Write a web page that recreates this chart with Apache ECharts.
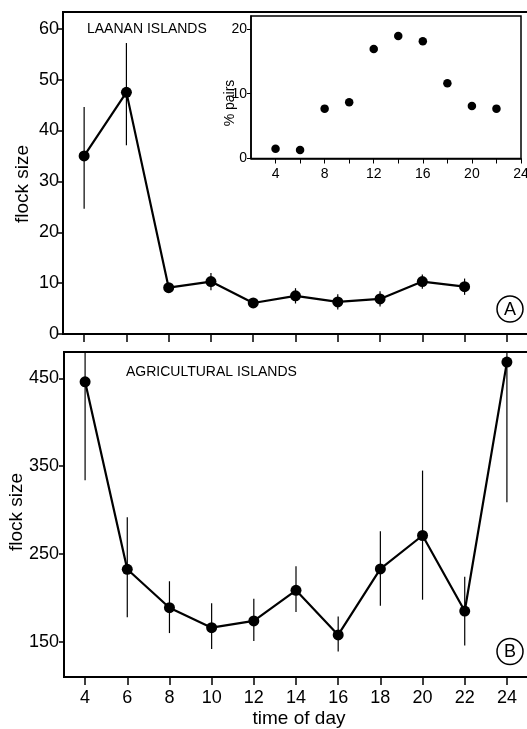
<!DOCTYPE html>
<html>
<head>
<meta charset="utf-8">
<script src="https://cdn.jsdelivr.net/npm/echarts@6/dist/echarts.min.js"></script>
<style>
html,body{margin:0;padding:0;background:#fff;}
#chart{width:527px;height:729px;}
</style>
</head>
<body>
<div id="chart"></div>
<script>
// ---- data ----
var hoursAll = [4, 6, 8, 10, 12, 14, 16, 18, 20, 22, 24];
var hoursLaanan = [4, 6, 8, 10, 12, 14, 16, 18, 20, 22];
var laananMean = [35, 47.5, 9.1, 10.3, 6.1, 7.5, 6.3, 6.9, 10.3, 9.3];
var laananLow  = [24.6, 37.1, 8.3, 8.6, 5.4, 6.0, 4.8, 5.4, 8.9, 7.7];
var laananHigh = [44.6, 57.2, 9.9, 12.0, 6.8, 9.0, 7.8, 8.4, 11.7, 10.9];

var pairsHours = [4, 6, 8, 10, 12, 14, 16, 18, 20, 22];
var pairsPct = [1.5, 1.3, 7.7, 8.7, 16.9, 18.9, 18.1, 11.6, 8.1, 7.7];

var agriMean = [446, 232.6, 188.9, 166.2, 173.8, 208.7, 157.9, 233, 271.1, 185.1, 468.5];
var agriLow  = [334, 178, 160, 142, 151, 184, 139, 191, 198, 146, 309];
var agriHigh = [558, 292, 219, 194, 199, 236, 179, 276, 345, 224, 628];

var topYTicks = [0, 10, 20, 30, 40, 50, 60];
var insetYTicks = [0, 10, 20];
var insetXTicks = [4, 6, 8, 10, 12, 14, 16, 18, 20, 22, 24];
var insetXLabels = [4, 8, 12, 16, 20, 24];
var bottomYTicks = [150, 250, 350, 450];
var xTicks = [4, 6, 8, 10, 12, 14, 16, 18, 20, 22, 24];

// ---- chart ----
var FONT = 'Liberation Sans, Arial, sans-serif';
var chart = echarts.init(document.getElementById('chart'), null, {renderer: 'canvas'});

function pairs(xs, ys) { return xs.map(function (x, i) { return [x, ys[i]]; }); }
function errData(xs, lo, hi) { return xs.map(function (x, i) { return [x, lo[i], hi[i]]; }); }
function errRender(params, api) {
  var x = api.value(0);
  var p1 = api.coord([x, api.value(1)]);
  var p2 = api.coord([x, api.value(2)]);
  return {type: 'line', shape: {x1: p1[0], y1: p1[1], x2: p2[0], y2: p2[1]},
          style: {stroke: '#000', lineWidth: 1.2}};
}

var axisLine = {show: true, lineStyle: {color: '#000', width: 2}};

var option = {
  animation: false,
  backgroundColor: '#fff',
  grid: [
    {left: 63, top: 12, width: 465, height: 322, show: true, borderColor: '#000', borderWidth: 2, outerBoundsMode: 'none'},
    {left: 251, top: 16, width: 270, height: 142.5, show: true, borderColor: '#000', borderWidth: 1.5, backgroundColor: '#fff', outerBoundsMode: 'none'},
    {left: 64, top: 352, width: 464, height: 325, show: true, borderColor: '#000', borderWidth: 2, outerBoundsMode: 'none'}
  ],
  xAxis: [
    {gridIndex: 0, type: 'value', min: 3, max: 25, axisLine: axisLine,
     axisTick: {show: true, inside: false, length: 8, customValues: xTicks, lineStyle: {color: '#000', width: 1.5}},
     axisLabel: {show: false}, splitLine: {show: false}},
    {gridIndex: 1, type: 'value', min: 2, max: 24, axisLine: {show: true, lineStyle: {color: '#000', width: 1.5}},
     axisTick: {show: true, inside: false, length: 5, customValues: insetXTicks, lineStyle: {color: '#000', width: 1}},
     axisLabel: {show: true, customValues: insetXLabels, margin: 9, color: '#000', fontSize: 14, fontFamily: FONT},
     splitLine: {show: false}},
    {gridIndex: 2, type: 'value', min: 3, max: 25, axisLine: axisLine,
     axisTick: {show: true, inside: false, length: 8, customValues: xTicks, lineStyle: {color: '#000', width: 1.5}},
     axisLabel: {show: true, customValues: xTicks, margin: 12, color: '#000', fontSize: 18, fontFamily: FONT},
     splitLine: {show: false}}
  ],
  yAxis: [
    {gridIndex: 0, type: 'value', min: 0, max: 63.3, axisLine: axisLine,
     axisTick: {show: true, inside: false, length: 5, customValues: topYTicks, lineStyle: {color: '#000', width: 1.5}},
     axisLabel: {show: true, customValues: topYTicks, margin: 4, color: '#000', fontSize: 18, fontFamily: FONT},
     splitLine: {show: false}},
    {gridIndex: 1, type: 'value', min: 0, max: 22, axisLine: {show: true, lineStyle: {color: '#000', width: 1.5}},
     axisTick: {show: true, inside: false, length: 4, customValues: insetYTicks, lineStyle: {color: '#000', width: 1}},
     axisLabel: {show: true, customValues: insetYTicks, margin: 4, color: '#000', fontSize: 14, fontFamily: FONT},
     splitLine: {show: false}},
    {gridIndex: 2, type: 'value', min: 110, max: 480, axisLine: axisLine,
     axisTick: {show: true, inside: false, length: 5, customValues: bottomYTicks, lineStyle: {color: '#000', width: 1.5}},
     axisLabel: {show: true, customValues: bottomYTicks, margin: 5, color: '#000', fontSize: 18, fontFamily: FONT},
     splitLine: {show: false}}
  ],
  series: [
    {type: 'custom', xAxisIndex: 0, yAxisIndex: 0, renderItem: errRender, clip: true,
     encode: {x: 0, y: [1, 2]}, data: errData(hoursLaanan, laananLow, laananHigh), z: 1},
    {type: 'line', xAxisIndex: 0, yAxisIndex: 0, data: pairs(hoursLaanan, laananMean),
     symbol: 'circle', symbolSize: 11, lineStyle: {color: '#000', width: 2.2},
     itemStyle: {color: '#000', opacity: 1}, z: 2},
    {type: 'scatter', xAxisIndex: 1, yAxisIndex: 1, data: pairs(pairsHours, pairsPct),
     symbol: 'circle', symbolSize: 8.5, itemStyle: {color: '#000', opacity: 1}, z: 5},
    {type: 'custom', xAxisIndex: 2, yAxisIndex: 2, renderItem: errRender, clip: true,
     encode: {x: 0, y: [1, 2]}, data: errData(hoursAll, agriLow, agriHigh), z: 1},
    {type: 'line', xAxisIndex: 2, yAxisIndex: 2, data: pairs(hoursAll, agriMean),
     symbol: 'circle', symbolSize: 11, lineStyle: {color: '#000', width: 2.2},
     itemStyle: {color: '#000', opacity: 1}, z: 2}
  ],
  graphic: [
    {type: 'text', left: 87, top: 22, style: {text: 'LAANAN ISLANDS', fill: '#000', font: '14px ' + FONT}},
    {type: 'text', left: 126, top: 365, style: {text: 'AGRICULTURAL ISLANDS', fill: '#000', font: '14px ' + FONT}},
    {type: 'text', x: 23, y: 184, rotation: Math.PI / 2,
     style: {text: 'flock size', fill: '#000', font: '19px ' + FONT, textAlign: 'center', textVerticalAlign: 'middle'}},
    {type: 'text', x: 17, y: 512, rotation: Math.PI / 2,
     style: {text: 'flock size', fill: '#000', font: '19px ' + FONT, textAlign: 'center', textVerticalAlign: 'middle'}},
    {type: 'text', x: 230, y: 103, rotation: Math.PI / 2,
     style: {text: '% pairs', fill: '#000', font: '14px ' + FONT, textAlign: 'center', textVerticalAlign: 'middle'}},
    {type: 'text', x: 299, y: 719,
     style: {text: 'time of day', fill: '#000', font: '19px ' + FONT, textAlign: 'center', textVerticalAlign: 'middle'}},
    {type: 'circle', shape: {cx: 510, cy: 309, r: 13}, style: {fill: 'none', stroke: '#000', lineWidth: 1.5}},
    {type: 'text', x: 510, y: 310, style: {text: 'A', fill: '#000', font: '18px ' + FONT, textAlign: 'center', textVerticalAlign: 'middle'}},
    {type: 'circle', shape: {cx: 510, cy: 651.5, r: 13}, style: {fill: 'none', stroke: '#000', lineWidth: 1.5}},
    {type: 'text', x: 510, y: 652.5, style: {text: 'B', fill: '#000', font: '18px ' + FONT, textAlign: 'center', textVerticalAlign: 'middle'}}
  ]
};
chart.setOption(option);
</script>
</body>
</html>
